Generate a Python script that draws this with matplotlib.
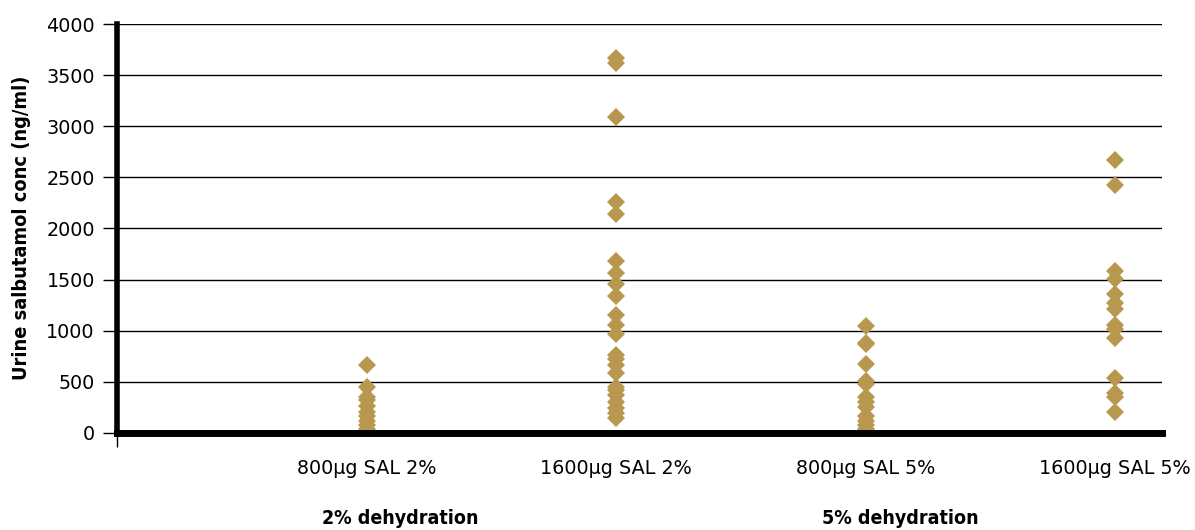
import matplotlib
matplotlib.use("Agg")
import matplotlib.pyplot as plt
from matplotlib.transforms import blended_transform_factory
from matplotlib import font_manager

categories = ["800µg SAL 2%", "1600µg SAL 2%", "800µg SAL 5%", "1600µg SAL 5%"]
group_labels = ["2% dehydration", "5% dehydration"]

sal800_2 = [665, 450, 350, 320, 260, 210, 170, 120, 80, 40, 20]
sal1600_2 = [3665, 3620, 3090, 2260, 2140, 1685, 1560, 1460, 1340, 1155, 1056,
             970, 765, 720, 665, 590, 450, 420, 370, 300, 240, 200, 150]
sal800_5 = [1050, 880, 870, 670, 510, 480, 350, 300, 250, 170, 120, 80, 40]
sal1600_5 = [2670, 2430, 1585, 1505, 1360, 1270, 1215, 1060, 1020, 930, 540,
             390, 350, 210]
series = [sal800_2, sal1600_2, sal800_5, sal1600_5]

yticks = [0, 500, 1000, 1500, 2000, 2500, 3000, 3500, 4000]

color = "#B8974F"

names = {f.name for f in font_manager.fontManager.ttflist}
if "DejaVu Sans Condensed" in names:
    cond_family = "DejaVu Sans Condensed"
else:
    cond_family = "DejaVu Sans"
cond_kw = dict(family=cond_family, fontweight="bold", fontstretch="condensed")

fig = plt.figure(figsize=(11.95, 5.30), dpi=100)
ax = fig.add_axes([117/1195, 1-433/530, (1162-117)/1195, (433-24)/530])

for i, vals in enumerate(series):
    ax.plot([i + 1] * len(vals), vals, linestyle="none", marker="D",
            markersize=9.5, color=color, markeredgewidth=0, zorder=3)

ax.set_xlim(0, (1162-117)/249.5)
ax.set_ylim(0, 4000)
ax.set_yticks(yticks)
ax.set_yticklabels([str(v) for v in yticks], fontsize=13.8, family="DejaVu Sans")
for v in yticks[1:]:
    ax.axhline(v, color="black", linewidth=1.0, zorder=1)

ax.set_xticks([0])
ax.set_xticklabels([""])
ax.tick_params(axis="x", direction="out", length=10, width=1, color="black")
ax.tick_params(axis="y", direction="out", length=10, width=1, color="black", pad=6)

trans = blended_transform_factory(ax.transData, ax.transAxes)
for i, c in enumerate(categories):
    ax.text(i + 1, -35/409, c, transform=trans, ha="center", va="center",
            fontsize=13.8, family="DejaVu Sans")

for sp in ["top", "right"]:
    ax.spines[sp].set_visible(False)
ax.spines["left"].set_linewidth(4)
ax.spines["bottom"].set_linewidth(5)
ax.spines["left"].set_zorder(4)
ax.spines["bottom"].set_zorder(4)

fig.text(22/1195, 1-228/530, "Urine salbutamol conc (ng/ml)", rotation=90,
         ha="center", va="center", fontsize=14.3, **cond_kw)

fig.text(400/1195, 1-518/530, group_labels[0], ha="center", va="center",
         fontsize=14, **cond_kw)
fig.text(900/1195, 1-518/530, group_labels[1], ha="center", va="center",
         fontsize=14, **cond_kw)

fig.savefig("out.png", dpi=100)
